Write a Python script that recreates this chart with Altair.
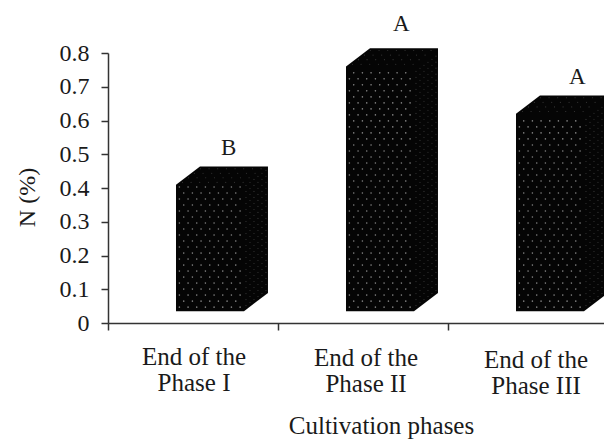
import altair as alt
import numpy as np
import pandas as pd

categories = ["End of the Phase I", "End of the Phase II", "End of the Phase III"]
values = [0.41, 0.76, 0.62]
letters = ["B", "A", "A"]
line1 = ["End of the", "End of the", "End of the"]
line2 = ["Phase I", "Phase II", "Phase III"]
base = 0.035
left = [0.40, 1.40, 2.40]
front_w = 0.40
depth_x = 0.141
depth_y = 0.054

FONT = "Liberation Serif"
W = 496

# silhouette of each box
sil = []
for c, v, l in zip(categories, values, left):
    sil += [
        dict(c=c, x=l, y=v, y2=base),
        dict(c=c, x=l + depth_x, y=v + depth_y, y2=base),
        dict(c=c, x=l + front_w, y=v + depth_y, y2=base),
        dict(c=c, x=l + front_w + depth_x, y=v + depth_y, y2=base + depth_y),
    ]
sil = pd.DataFrame(sil)

# stipple texture
front, side = [], []
for c, v, l in zip(categories, values, left):
    rows = int((v - base) / 0.0178)
    for r in range(rows):
        yy = base + 0.012 + r * 0.0178
        xs = np.arange(l + 0.02 + (r % 2) * 0.0255, l + front_w - 0.01, 0.051)
        for xx in xs:
            front.append(dict(x=float(xx), y=yy))
    for i in range(6):
        fx = (i + 0.5) / 6
        dx = fx * depth_x
        dy = fx * depth_y
        for r in range(rows):
            side.append(dict(x=l + front_w + dx, y=base + dy + 0.012 + r * 0.0178))
    for r in range(4):
        fy = (r + 0.5) / 4
        for xx in np.arange(l + 0.02, l + front_w - 0.01, 0.051):
            side.append(dict(x=float(xx) + fy * depth_x, y=v + fy * depth_y))
front = pd.DataFrame(front)
side = pd.DataFrame(side)

xs = alt.Scale(domain=[0, W / 170], nice=False, zero=False)
ys = alt.Scale(domain=[0, 0.8], nice=False)
x_axis = alt.Axis(
    values=[0, 1, 2], labels=False, grid=False, title="Cultivation phases",
    titleFont=FONT, titleFontSize=25, titleFontWeight="normal", titleColor="#1a1a1a",
    titleX=273, titleY=102, titleBaseline="middle", tickSize=7, tickColor="#333", tickWidth=1.5,
    domainColor="#333", domainWidth=1.5)
y_axis = alt.Axis(
    values=[round(i * 0.1, 1) for i in range(9)], format=".1~f", grid=False, title="N (%)",
    labelFont=FONT, labelFontSize=24, labelColor="#1a1a1a", labelPadding=12, labelOverlap=False,
    titleFont=FONT, titleFontSize=24, titleFontWeight="normal", titleColor="#1a1a1a",
    titleX=-81, titleY=144, titleBaseline="middle", tickSize=7, tickColor="#333", tickWidth=1.5,
    domainColor="#333", domainWidth=1.5)

Xn = lambda f: alt.X(f, scale=xs, axis=x_axis)
Yn = lambda f: alt.Y(f, scale=ys, axis=y_axis)

boxes = alt.Chart(sil).mark_area(color="#050505", interpolate="linear").encode(
    x=Xn("x:Q"), y=Yn("y:Q"), y2="y2:Q", detail="c:N")
dots = alt.Chart(front).mark_circle(color="#b8b8b8", size=2.6, opacity=0.7).encode(
    x=Xn("x:Q"), y=Yn("y:Q"))
dots2 = alt.Chart(side).mark_circle(color="#a0a0a0", size=1.2, opacity=0.35).encode(
    x=Xn("x:Q"), y=Yn("y:Q"))

lab_df = pd.DataFrame(dict(
    letter=letters, x=[0.71, 1.725, 2.76], y=[0.52, 0.885, 0.728],
    l1=line1, l2=line2, lx=[0.506, 1.518, 2.518],
    y1=[-0.102, -0.104, -0.11], y2=[-0.178, -0.18, -0.186]))
letter_t = alt.Chart(lab_df).mark_text(font=FONT, fontSize=23, color="#1a1a1a", baseline="middle").encode(
    x=Xn("x:Q"), y=Yn("y:Q"), text="letter:N")
t1 = alt.Chart(lab_df).mark_text(font=FONT, fontSize=25, color="#1a1a1a", baseline="middle").encode(
    x=Xn("lx:Q"), y=Yn("y1:Q"), text="l1:N")
t2 = alt.Chart(lab_df).mark_text(font=FONT, fontSize=25, color="#1a1a1a", baseline="middle").encode(
    x=Xn("lx:Q"), y=Yn("y2:Q"), text="l2:N")

chart = (boxes + dots2 + dots + letter_t + t1 + t2).properties(
    width=W, height=270,
    autosize=alt.AutoSizeParams(type="none"),
    padding={"left": 100, "top": 45, "right": 0, "bottom": 116},
    background="white",
).configure_view(stroke=None)

chart.save("out.html", embed_options={"renderer": "svg", "actions": False})
